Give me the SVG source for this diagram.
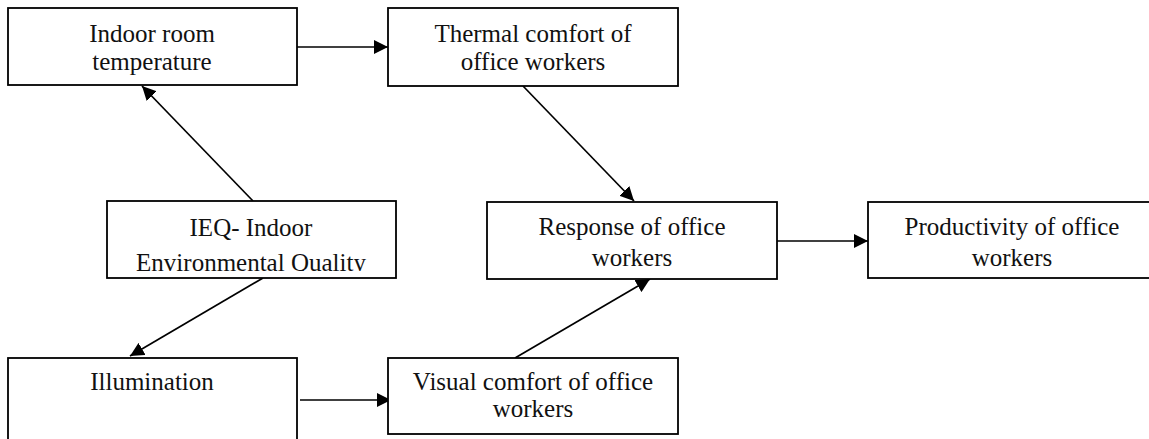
<svg xmlns="http://www.w3.org/2000/svg" width="1149" height="439" viewBox="0 0 1149 439">
<style>
.box{fill:#fff;stroke:#000;stroke-width:1.8}
.t{font-size:25px;fill:#111;text-anchor:middle}
.c{stroke:#000;stroke-width:1.7;fill:none;marker-end:url(#ah)}
</style>
<defs>
<marker id="ah" markerUnits="userSpaceOnUse" markerWidth="14" markerHeight="14" refX="14" refY="7" orient="auto" viewBox="0 0 14 14">
<path d="M0,0 L14,7 L0,14 z" fill="#000"/>
</marker>
<clipPath id="ieqclip"><rect x="107" y="201" width="289" height="70"/></clipPath>
</defs>
<g id="connectors">
<line class="c" x1="297" y1="47" x2="388" y2="47"/>
<line class="c" x1="253" y1="201" x2="142" y2="86"/>
<line class="c" x1="523" y1="86" x2="634" y2="201"/>
<line class="c" x1="777" y1="241" x2="868" y2="241"/>
<line class="c" x1="263" y1="278" x2="130" y2="356"/>
<line class="c" x1="300" y1="400" x2="391" y2="400"/>
<line class="c" x1="515" y1="358" x2="650" y2="279"/>
</g>
<g font-family="Liberation Serif, Times New Roman, serif">
<g id="node-temperature">
<rect class="box" x="8" y="8" width="289" height="77"/>
<text class="t" x="152" y="42">Indoor room</text>
<text class="t" x="152" y="70">temperature</text>
</g>
<g id="node-thermal">
<rect class="box" x="388" y="8" width="290" height="78"/>
<text class="t" x="533" y="42">Thermal comfort of</text>
<text class="t" x="533" y="70">office workers</text>
</g>
<g id="node-ieq">
<rect class="box" x="107" y="201" width="289" height="77"/>
<g clip-path="url(#ieqclip)">
<text class="t" x="251" y="236">IEQ- Indoor</text>
<text class="t" x="251" y="271">Environmental Quality</text>
</g>
</g>
<g id="node-response">
<rect class="box" x="487" y="202" width="290" height="77"/>
<text class="t" x="632" y="235">Response of office</text>
<text class="t" x="632" y="266">workers</text>
</g>
<g id="node-productivity">
<rect class="box" x="868" y="202" width="290" height="76"/>
<text class="t" x="1012" y="235">Productivity of office</text>
<text class="t" x="1012" y="266">workers</text>
</g>
<g id="node-illumination">
<rect class="box" x="8" y="358" width="289" height="100"/>
<text class="t" x="152" y="390">Illumination</text>
</g>
<g id="node-visual">
<rect class="box" x="388" y="358" width="290" height="76"/>
<text class="t" x="533" y="390">Visual comfort of office</text>
<text class="t" x="533" y="417">workers</text>
</g>
</g>
</svg>
